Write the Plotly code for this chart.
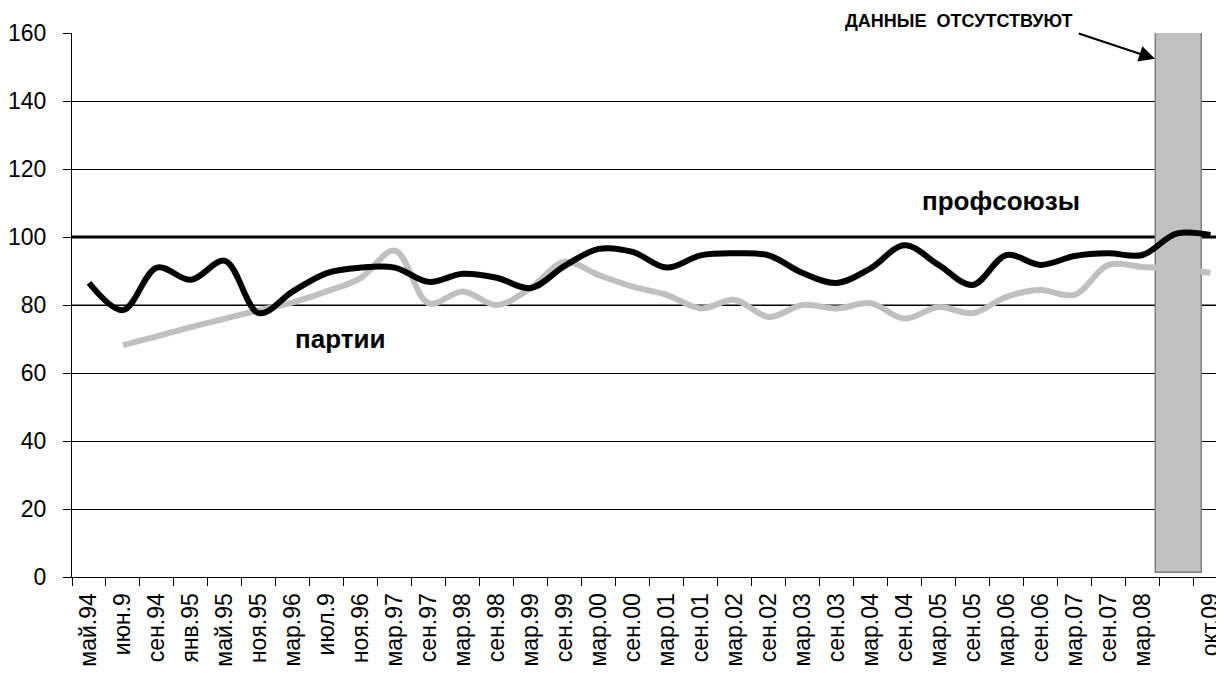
import plotly.graph_objects as go

categories = ["май.94", "июн.9", "сен.94", "янв.95", "май.95", "ноя.95", "мар.96", "июл.9",
              "ноя.96", "мар.97", "сен.97", "мар.98", "сен.98", "мар.99", "сен.99", "мар.00",
              "сен.00", "мар.01", "сен.01", "мар.02", "сен.02", "мар.03", "сен.03", "мар.04",
              "сен.04", "мар.05", "сен.05", "мар.06", "сен.06", "мар.07", "сен.07", "мар.08",
              " ", "окт.09"]

profsoyuzy = [86.5, 78.5, 91, 87.4, 93, 77.6, 84, 89.4, 91, 91, 86.8, 89.2, 88, 85, 91.5, 96.5,
              95.6, 91, 94.6, 95.2, 94.6, 89.4, 86.5, 90.8, 97.6, 91.8, 85.9, 94.7, 91.8, 94.4,
              95.2, 94.7, 101, 100.6]

partii = [None, 68.2, 70.8, 73.5, 76, 78.5, 80.8, 84, 88, 96, 80.5, 84, 80, 85, 92.7, 88.8,
          85.4, 83, 79, 81.5, 76.5, 80, 79, 80.5, 76, 79.4, 77.6, 82.4, 84.4, 83, 91.8, 91.2,
          90.5, 89.5]

gap_category = " "
gap_bottom = 1.3
gap_top = 160

y_ticks = [0, 20, 40, 60, 80, 100, 120, 140, 160]

FONT = "Liberation Sans, Arial, sans-serif"

fig = go.Figure()

fig.add_trace(go.Scatter(
    x=categories, y=partii, mode="lines", name="партии",
    line=dict(color="#c0c0c0", width=6, shape="spline", smoothing=1.0),
    connectgaps=False, hoverinfo="skip"))

fig.add_trace(go.Scatter(
    x=categories, y=profsoyuzy, mode="lines", name="профсоюзы",
    line=dict(color="#000000", width=6, shape="spline", smoothing=1.0),
    hoverinfo="skip"))

fig.add_trace(go.Bar(
    x=[gap_category], y=[gap_top - gap_bottom], base=[gap_bottom],
    width=[1.35], offset=[-0.60],
    marker=dict(color="#c0c0c0", line=dict(color="#808080", width=1.5)),
    hoverinfo="skip"))

# reference lines (above the grid, below the data lines)
fig.add_shape(type="line", xref="paper", yref="y", x0=0, x1=1, y0=80, y1=80,
              line=dict(color="#808080", width=2), layer="between")
fig.add_shape(type="line", xref="paper", yref="y", x0=0, x1=1, y0=100, y1=100,
              line=dict(color="#000000", width=3), layer="between")

fig.add_annotation(x=categories.index("мар.96") + 1.4, y=70, xref="x", yref="y",
                   text="<b>партии</b>", showarrow=False,
                   font=dict(family=FONT, size=26, color="#000"))
fig.add_annotation(x=categories.index("сен.04") + 2.85, y=110.5, xref="x", yref="y",
                   text="<b>профсоюзы</b>", showarrow=False,
                   font=dict(family=FONT, size=26, color="#000"))
fig.add_annotation(x=categories.index("сен.04") + 1.6, y=160, xref="x", yref="y",
                   text="<b>ДАННЫЕ  ОТСУТСТВУЮТ</b>", showarrow=False, yanchor="bottom",
                   yshift=0, font=dict(family=FONT, size=18, color="#000"))
fig.add_annotation(x=31.37, y=152.4, ax=29.08, ay=160, xref="x", yref="y",
                   axref="x", ayref="y", text="", showarrow=True,
                   arrowhead=2, arrowsize=1.6, arrowwidth=2, arrowcolor="#000",
                   standoff=0, startstandoff=0)

# page body has an 8px margin: size the figure so the plot lands where the reference has it
fig.update_layout(
    width=1216, height=665,
    margin=dict(l=64, r=0, t=25, b=96),
    paper_bgcolor="white", plot_bgcolor="white",
    showlegend=False,
    font=dict(family=FONT, size=23, color="#000"),
    bargap=0,
)

fig.update_xaxes(
    type="category", categoryorder="array", categoryarray=categories,
    range=[-0.5, 33.4], tickson="boundaries", ticks="outside", ticklen=8,
    tickcolor="#000", tickwidth=1, tickangle=-90, showgrid=False, automargin=False,
    showline=True, linecolor="#000", linewidth=1, ticklabelstandoff=6,
    tickfont=dict(family=FONT, size=23, color="#000"), zeroline=False)

fig.update_yaxes(
    range=[0, 160], tickvals=y_ticks, ticks="outside", ticklen=8, automargin=False,
    tickcolor="#000", tickwidth=1, showgrid=True, gridcolor="#000", gridwidth=1,
    showline=True, linecolor="#000", linewidth=1, zeroline=False, ticklabelstandoff=12,
    tickfont=dict(family=FONT, size=23, color="#000"))

fig.write_html("out.html")
